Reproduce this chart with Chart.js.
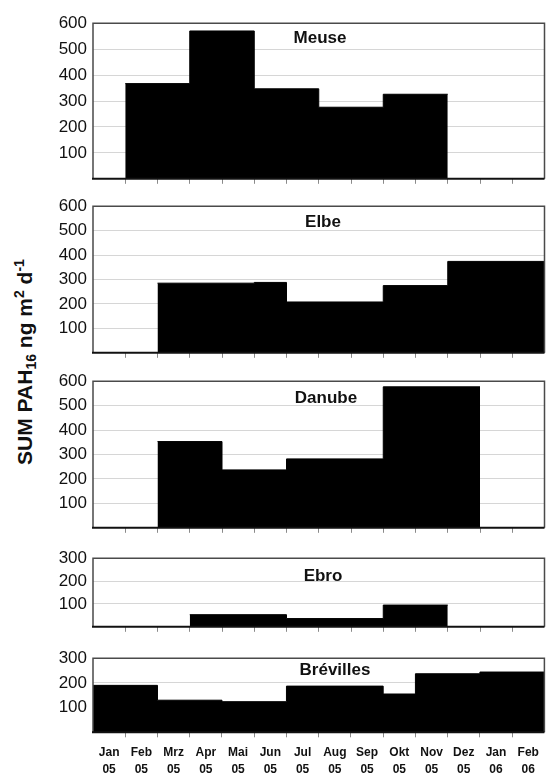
<!DOCTYPE html>
<html>
<head>
<meta charset="utf-8">
<script src="https://cdn.jsdelivr.net/npm/chart.js@4/dist/chart.umd.min.js"></script>
<style>
  html, body { margin: 0; padding: 0; background: #fff; }
  body { width: 546px; height: 774px; position: relative; overflow: hidden; font-family: "Liberation Sans", Arial, sans-serif; }
  .panel { position: absolute; left: 0; width: 546px; }
  #ytitle {
    position: absolute; width: 280px; height: 30px; line-height: 30px;
    left: -115px; top: 347px; text-align: center; white-space: nowrap;
    transform: rotate(-90deg); transform-origin: 50% 50%;
    font-family: "Liberation Sans", Arial, sans-serif; font-weight: bold; font-size: 21px; color: #111;
  }
  #ytitle sub, #ytitle sup { font-size: 14px; line-height: 0; }
  #ytitle sub { vertical-align: -4px; }
  #ytitle sup { vertical-align: 8px; }
</style>
</head>
<body>
<div id="ytitle">SUM PAH<sub>16</sub> ng m<sup>2</sup> d<sup>-1</sup></div>
<script>
// ---- Data (month axis: index 0 = Jan 05 ... 13 = Feb 06) ----
const monthNames = ['Jan','Feb','Mrz','Apr','Mai','Jun','Jul','Aug','Sep','Okt','Nov','Dez','Jan','Feb'];
const monthYears = ['05','05','05','05','05','05','05','05','05','05','05','05','06','06'];

const siteNames = ['Meuse','Elbe','Danube','Ebro','Brévilles'];

// sampling periods: start month index, end month index (exclusive), value
const meuseStart  = [1, 3, 5, 7, 9];
const meuseEnd    = [3, 5, 7, 9, 11];
const meuseValues = [367, 570, 347, 276, 326];

const elbeStart  = [2, 5, 6, 9, 11];
const elbeEnd    = [5, 6, 9, 11, 14];
const elbeValues = [285, 288, 208, 275, 374];

const danubeStart  = [2, 4, 6, 9];
const danubeEnd    = [4, 6, 9, 12];
const danubeValues = [353, 237, 282, 577];

const ebroStart  = [3, 6, 9];
const ebroEnd    = [6, 9, 11];
const ebroValues = [53, 36, 95];

const brevStart  = [0, 2, 4, 6, 9, 10, 12];
const brevEnd    = [2, 4, 6, 9, 10, 12, 14];
const brevValues = [190, 130, 124, 187, 155, 237, 244];

const yTicksBig   = [100, 200, 300, 400, 500, 600];
const yTicksSmall = [100, 200, 300];

// ---- Layout (positions / styles only) ----
const layout = [
  { top: 19.5,  bottom: 184.8, ymax: 600, yticks: yTicksBig,   titleX: 320, titleDy: 15.5 },
  { top: 202.3, bottom: 358.3, ymax: 600, yticks: yTicksBig,   titleX: 323, titleDy: 16 },
  { top: 377.3, bottom: 533.3, ymax: 600, yticks: yTicksBig,   titleX: 326, titleDy: 17 },
  { top: 554.7, bottom: 632.5, ymax: 300, yticks: yTicksSmall, titleX: 323, titleDy: 18.6 },
  { top: 654.3, bottom: 732.3, ymax: 300, yticks: yTicksSmall, titleX: 335, titleDy: 12.4 }
];
const series = [
  [meuseStart, meuseEnd, meuseValues],
  [elbeStart, elbeEnd, elbeValues],
  [danubeStart, danubeEnd, danubeValues],
  [ebroStart, ebroEnd, ebroValues],
  [brevStart, brevEnd, brevValues]
];

const FONT = '"Liberation Sans", Arial, sans-serif';
const PLOT_LEFT = 93;

function stepPoints(starts, ends, values) {
  const pts = starts.map((s, i) => ({ x: s, y: values[i] }));
  const last = values.length - 1;
  pts.push({ x: ends[last], y: values[last] });
  return pts;
}

const framePlugin = {
  id: 'frame',
  afterDatasetsDraw(chart, args, opts) {
    const { ctx, chartArea: a } = chart;
    ctx.save();
    ctx.strokeStyle = '#4a4a4a';
    ctx.lineWidth = 1.5;
    ctx.beginPath();
    ctx.moveTo(a.left, a.bottom);
    ctx.lineTo(a.left, a.top);
    ctx.lineTo(a.right, a.top);
    ctx.lineTo(a.right, a.bottom);
    ctx.stroke();
    ctx.strokeStyle = '#111';
    ctx.lineWidth = 2;
    ctx.beginPath();
    ctx.moveTo(a.left - 1, a.bottom);
    ctx.lineTo(a.right, a.bottom);
    ctx.stroke();
    // panel title
    ctx.fillStyle = '#111';
    ctx.font = 'bold 17px ' + FONT;
    ctx.textAlign = 'center';
    ctx.textBaseline = 'middle';
    ctx.fillText(opts.title, opts.titleX, a.top + opts.titleDy);
    ctx.restore();
  }
};

layout.forEach((L, p) => {
  const isLast = p === layout.length - 1;
  const axisH = isLast ? 44 : 8;
  const canvasTop = Math.floor(L.top) - 12;
  const padTop = L.top - canvasTop;
  const canvasH = Math.ceil(L.bottom + axisH + 2) - canvasTop;
  const padBottom = canvasTop + canvasH - L.bottom - axisH;

  const div = document.createElement('div');
  div.className = 'panel';
  div.style.top = canvasTop + 'px';
  div.style.height = canvasH + 'px';
  const cv = document.createElement('canvas');
  div.appendChild(cv);
  document.body.appendChild(div);

  const [st, en, va] = series[p];

  new Chart(cv, {
    type: 'line',
    data: {
      datasets: [{
        label: siteNames[p],
        data: stepPoints(st, en, va),
        stepped: 'before',
        fill: 'origin',
        backgroundColor: '#000',
        borderColor: '#000',
        borderWidth: 1,
        pointRadius: 0,
        tension: 0
      }]
    },
    options: {
      responsive: true,
      maintainAspectRatio: false,
      animation: false,
      events: [],
      layout: { padding: { top: padTop, bottom: padBottom, left: 0, right: 1.5 } },
      plugins: {
        legend: { display: false },
        tooltip: { enabled: false },
        frame: { title: siteNames[p], titleX: L.titleX, titleDy: L.titleDy }
      },
      scales: {
        x: {
          type: 'linear',
          min: 0,
          max: monthNames.length,
          border: { display: false },
          afterBuildTicks(scale) {
            const t = [];
            for (let i = 1; i < monthNames.length; i++) t.push({ value: i });
            if (isLast) for (let i = 0; i < monthNames.length; i++) t.push({ value: i + 0.5 });
            t.sort((a, b) => a.value - b.value);
            scale.ticks = t;
          },
          afterFit(scale) { scale.height = axisH; },
          grid: {
            drawOnChartArea: false,
            drawTicks: true,
            tickLength: 5,
            tickWidth: 1,
            tickColor: (ctx) => (ctx.tick && Number.isInteger(ctx.tick.value)) ? '#8a8a8a' : 'rgba(0,0,0,0)'
          },
          ticks: {
            display: isLast,
            autoSkip: false,
            maxRotation: 0,
            minRotation: 0,
            padding: 7,
            color: '#111',
            font: { family: FONT, size: 12, weight: 'bold', lineHeight: 1.42 },
            callback: (v) => {
              if (Number.isInteger(v)) return '';
              const i = Math.floor(v);
              return [monthNames[i], monthYears[i]];
            }
          }
        },
        y: {
          type: 'linear',
          min: 0,
          max: L.ymax,
          border: { display: false },
          afterBuildTicks(scale) {
            scale.ticks = [{ value: 0 }].concat(L.yticks.map(v => ({ value: v })));
          },
          afterFit(scale) { scale.width = PLOT_LEFT; },
          grid: { color: '#d6d6d6', lineWidth: 1, drawTicks: false },
          ticks: {
            padding: 6,
            color: '#111',
            font: { family: FONT, size: 17 },
            callback: (v) => v === 0 ? '' : String(v)
          }
        }
      }
    },
    plugins: [framePlugin]
  });
});
</script>
</body>
</html>
